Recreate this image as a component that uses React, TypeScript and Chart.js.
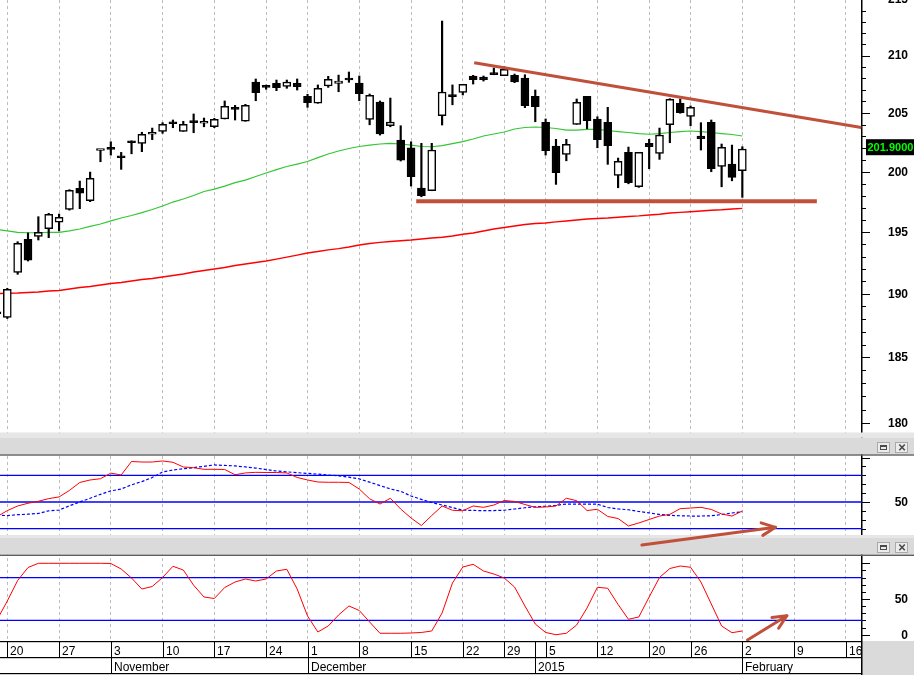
import { useEffect, useRef } from 'react';
import { Chart, registerables } from 'chart.js';

Chart.register(...registerables);

const W = 914;
const H = 675;

// ---------- calendar (trading days, incl. empty future days on the right) ----------
const monthDays = (ym: string, days: number[]) => days.map((d) => `${ym}-${String(d).padStart(2, '0')}`);
const tradingDays: string[] = [
  ...monthDays('2014-10', [17, 20, 21, 22, 23, 24, 27, 28, 29, 30, 31]),
  ...monthDays('2014-11', [3, 4, 5, 6, 7, 10, 11, 12, 13, 14, 17, 18, 19, 20, 21, 24, 25, 26, 28]),
  ...monthDays('2014-12', [1, 2, 3, 4, 5, 8, 9, 10, 11, 12, 15, 16, 17, 18, 19, 22, 23, 24, 26, 29, 30, 31]),
  ...monthDays('2015-01', [2, 5, 6, 7, 8, 9, 12, 13, 14, 15, 16, 20, 21, 22, 23, 26, 27, 28, 29, 30]),
  ...monthDays('2015-02', [2, 3, 4, 5, 6, 9, 10, 11, 12, 13, 16, 17, 18, 19, 20]),
];
const MONTHS = ['January', 'February', 'March', 'April', 'May', 'June', 'July', 'August', 'September', 'October', 'November', 'December'];

// ---------- OHLC, 17 Oct 2014 .. 2 Feb 2015 ----------
const openP = [
  188.42, 188.14, 191.73, 194.41, 194.65, 195.28, 195.80, 196.87, 198.61, 197.58,
  201.79, 202.02, 201.32, 202.56, 202.40, 203.17, 203.42, 204.22, 203.42, 204.28,
  204.11, 203.81, 204.48, 205.36, 204.28, 207.68, 207.33, 207.56, 207.30, 207.56,
  206.43, 205.83, 207.33, 207.56, 208.02, 207.59, 204.45, 205.94, 203.90, 202.68,
  202.02, 198.63, 198.41, 204.77, 206.52, 206.78, 208.20, 208.11, 208.49, 208.23,
  208.26, 208.02, 206.43, 204.19, 202.17, 201.46, 204.02, 206.43, 204.48, 204.19,
  199.70, 201.63, 198.74, 202.40, 201.55, 203.98, 205.83, 204.69, 203.02, 204.19,
  200.45, 200.65, 200.08,
];
const highP = [
  189.00, 190.45, 194.21, 194.93, 196.26, 196.54, 196.48, 198.50, 199.22, 199.97,
  201.83, 202.53, 201.63, 202.61, 203.34, 203.70, 204.16, 204.39, 204.28, 204.91,
  204.56, 204.53, 206.03, 205.65, 205.74, 207.94, 207.41, 207.85, 207.85, 207.94,
  206.61, 207.42, 208.17, 208.28, 208.55, 208.20, 206.63, 206.03, 206.28, 203.90,
  202.53, 202.40, 202.40, 213.06, 207.42, 207.48, 208.26, 208.20, 208.90, 209.01,
  208.37, 208.31, 206.98, 204.48, 202.74, 202.74, 206.20, 206.43, 204.67, 205.48,
  201.15, 202.08, 201.63, 202.74, 203.70, 206.23, 206.20, 205.60, 204.16, 204.39,
  202.34, 202.25, 202.11,
];
const lowP = [
  187.80, 188.05, 191.57, 192.64, 194.35, 194.54, 195.09, 196.80, 196.92, 197.50,
  200.84, 201.40, 200.20, 201.51, 201.69, 202.71, 203.25, 203.73, 203.42, 203.30,
  203.81, 203.73, 204.48, 204.39, 204.28, 206.05, 207.04, 206.92, 207.13, 206.98,
  205.48, 205.83, 207.21, 206.83, 207.65, 206.05, 203.98, 203.10, 203.81, 200.90,
  198.80, 197.91, 198.41, 203.96, 205.70, 206.55, 207.50, 207.76, 208.31, 208.23,
  207.62, 205.45, 204.24, 201.40, 198.94, 200.92, 204.02, 203.64, 202.02, 200.62,
  198.66, 198.99, 198.69, 200.25, 201.04, 202.45, 204.97, 203.90, 201.83, 200.00,
  198.74, 199.24, 197.86,
];
const closeP = [
  188.50, 190.37, 194.08, 192.72, 194.98, 196.46, 196.21, 198.45, 198.20, 199.44,
  201.81, 201.89, 201.18, 202.45, 203.17, 203.34, 204.02, 204.07, 204.02, 204.16,
  204.28, 204.45, 205.57, 205.30, 205.65, 206.75, 207.21, 207.18, 207.68, 207.27,
  205.88, 207.13, 207.91, 207.76, 207.85, 206.66, 206.52, 203.21, 204.22, 200.98,
  199.58, 198.00, 201.83, 206.81, 206.40, 207.48, 207.87, 207.87, 208.31, 208.78,
  207.68, 205.62, 205.53, 201.77, 199.92, 202.31, 205.91, 204.33, 202.71, 202.20,
  200.87, 199.08, 201.63, 202.11, 203.10, 206.17, 205.02, 205.48, 202.79, 200.25,
  202.05, 199.53, 201.90,
];

// ---------- moving averages ----------
const smaFast = [
  195.21, 195.09, 194.97, 194.94, 194.94, 194.97, 194.98, 195.09, 195.25, 195.46,
  195.66, 195.91, 196.15, 196.36, 196.60, 196.85, 197.14, 197.47, 197.72, 198.01,
  198.35, 198.55, 198.80, 199.09, 199.30, 199.60, 199.89, 200.18, 200.44, 200.64,
  200.86, 201.19, 201.49, 201.75, 201.96, 202.13, 202.25, 202.34, 202.40, 202.34,
  202.25, 202.13, 202.11, 202.21, 202.38, 202.55, 202.77, 203.02, 203.19, 203.36,
  203.62, 203.75, 203.79, 203.75, 203.66, 203.53, 203.53, 203.58, 203.58, 203.49,
  203.40, 203.32, 203.23, 203.17, 203.23, 203.32, 203.40, 203.45, 203.40, 203.32,
  203.23, 203.15, 203.02,
];
const smaSlow = [
  190.03, 190.05, 190.07, 190.11, 190.15, 190.23, 190.27, 190.39, 190.51, 190.59,
  190.71, 190.83, 190.91, 191.03, 191.15, 191.23, 191.35, 191.48, 191.60, 191.76,
  191.88, 192.00, 192.12, 192.28, 192.40, 192.52, 192.64, 192.80, 192.96, 193.12,
  193.29, 193.41, 193.55, 193.65, 193.78, 193.94, 194.06, 194.16, 194.23, 194.29,
  194.35, 194.43, 194.51, 194.57, 194.68, 194.82, 194.92, 195.09, 195.25, 195.37,
  195.50, 195.62, 195.70, 195.74, 195.83, 195.91, 195.99, 196.07, 196.11, 196.15,
  196.21, 196.28, 196.33, 196.40, 196.46, 196.56, 196.62, 196.67, 196.73, 196.79,
  196.83, 196.89, 196.95,
];

// ---------- oscillators ----------
const rsiLine = [
  33.5, 40.3, 45.5, 48.6, 50.8, 53.8, 55.7, 63.0, 72.0, 74.8,
  76.2, 82.5, 80.4, 95.6, 95.0, 95.0, 96.2, 94.7, 89.4, 88.6,
  86.8, 86.8, 86.6, 80.7, 82.7, 83.4, 83.2, 83.2, 82.7, 77.6,
  74.8, 72.5, 72.2, 72.2, 72.0, 64.6, 53.6, 47.7, 54.2, 42.1,
  32.0, 23.5, 34.8, 45.5, 40.7, 40.1, 45.5, 44.0, 46.6, 51.7,
  50.6, 47.2, 44.0, 44.4, 45.5, 54.2, 51.5, 40.4, 41.8, 33.7,
  31.4, 23.0, 26.4, 30.3, 34.2, 36.1, 42.5, 43.2, 44.0, 41.6,
  36.5, 34.2, 39.9,
];
const rsiSignal = [
  35.4, 34.6, 35.7, 36.3, 37.1, 40.1, 40.9, 45.7, 50.0, 54.2,
  58.6, 62.5, 64.6, 69.3, 73.0, 77.5, 83.8, 86.0, 87.4, 88.7,
  90.2, 91.7, 91.2, 90.6, 89.5, 88.2, 86.5, 84.9, 83.9, 83.0,
  82.2, 81.4, 80.4, 79.5, 77.9, 76.0, 72.3, 68.5, 64.7, 62.0,
  56.8, 52.9, 49.4, 46.6, 43.8, 40.8, 40.5, 40.2, 40.4, 40.7,
  42.1, 43.5, 44.6, 45.2, 46.3, 47.7, 47.7, 47.7, 47.6, 43.8,
  42.2, 41.3, 39.3, 37.8, 36.0, 35.0, 34.5, 34.2, 34.2, 34.5,
  35.9, 37.6, 39.0,
];
const stochLine = [
  20.6, 47.2, 75.9, 94.1, 100, 100, 100, 100, 100, 100,
  100, 99.7, 92.0, 79.4, 64.0, 67.5, 80.1, 95.8, 90.6, 69.2,
  52.8, 50.7, 66.1, 73.8, 78.0, 75.2, 78.0, 89.2, 91.6, 64.0,
  26.2, 3.8, 12.2, 27.6, 40.2, 33.9, 17.8, 2.0, 2.0, 2.0,
  2.4, 3.1, 5.2, 30.4, 72.4, 94.8, 98.6, 89.2, 85.0, 79.4,
  66.8, 40.2, 15.0, 3.1, 0.0, 2.0, 13.6, 37.4, 66.4, 65.0,
  42.3, 21.6, 24.8, 52.8, 80.1, 92.7, 96.2, 94.4, 73.8, 43.0,
  12.2, 2.8, 5.2,
];
const rsiLevels = [20, 50, 80];
const stochLevels = [20, 80];

// ---------- hand-drawn annotations (trading-day index, value) ----------
const resistanceLine = [{ day: 46.1, value: 209.36 }, { day: 83.5, value: 203.74 }];
const supportLine = [{ day: 40.5, value: 197.53 }, { day: 79.2, value: 197.53 }];
const rsiArrow = [{ day: 62.3, value: 1.6 }, { day: 75.2, value: 21.5 }];
const stochArrow = [{ day: 72.5, value: -7.4 }, { day: 76.3, value: 26.6 }];

// ---------- axis labels ----------
const priceLabels = [180, 185, 190, 195, 200, 205, 210, 215];
const rsiLabels = [50];
const rsiMajor = [50, 100];
const stochLabels = [0, 50];
const stochMajor = [0, 50, 100];

// ---------- layout ----------
const AREA_BOTTOM = 641;
const PRICE_PANEL = { top: 0, bottom: 432, hi: 214.95, lo: 179.3 };
const RSI_PANEL = { top: 455.7, bottom: 535, hi: 102.12, lo: 12.85 };
const STOCH_PANEL = { top: 556, bottom: 641, hi: 110.22, lo: -8.82 };
const X_MIN = 0.295;
const X_MAX = 83.56;
const TREND = '#c1503a';

const linRange = (p: any) => {
  const per = (p.hi - p.lo) / (p.bottom - p.top);
  return { min: p.lo - (AREA_BOTTOM - p.bottom) * per, max: p.hi + p.top * per };
};
const logRange = (p: any) => {
  const hi = Math.log10(p.hi);
  const lo = Math.log10(p.lo);
  const per = (hi - lo) / (p.bottom - p.top);
  return { min: Math.pow(10, lo - (AREA_BOTTOM - p.bottom) * per), max: Math.pow(10, hi + p.top * per) };
};

const weekday = (s: string) => new Date(s + 'T00:00:00Z').getUTCDay();
const monthOf = (s: string) => Number(s.slice(5, 7)) - 1;
const weekStarts = tradingDays
  .map((_, i) => i)
  .filter((i) => i > 0 && weekday(tradingDays[i]) < weekday(tradingDays[i - 1]));
const monthStarts = tradingDays
  .map((_, i) => i)
  .filter((i) => i > 0 && monthOf(tradingDays[i]) !== monthOf(tradingDays[i - 1]));

const xy = (arr: number[]) => arr.map((v, i) => ({ x: i, y: v }));
const pts = (arr: any[]) => arr.map((p) => ({ x: p.day, y: p.value }));
const levelLine = (v: number) => [{ x: X_MIN, y: v }, { x: X_MAX, y: v }];

const FONT = '"Liberation Sans", Arial, sans-serif';

const panelsPlugin = {
  id: 'panels',
  beforeDraw(chart: any) {
    const ctx = chart.ctx;
    ctx.save();
    ctx.fillStyle = '#ffffff';
    ctx.fillRect(0, 0, W, H);
    ctx.restore();
  },
  beforeDatasetsDraw(chart: any) {
    const ctx = chart.ctx;
    const a = chart.chartArea;
    ctx.save();
    // right axis line
    ctx.fillStyle = '#000';
    ctx.fillRect(a.right - 1, 0, 1.5, H);
    const header = (top: number, bottom: number, light: number) => {
      ctx.fillStyle = '#e6e6e6';
      ctx.fillRect(0, top, W, light);
      ctx.fillStyle = '#dadada';
      ctx.fillRect(0, top + light, W, bottom - top - light - 1.4);
      ctx.fillStyle = '#5e5e5e';
      ctx.fillRect(0, bottom - 1.4, W, 1.4);
      const by = Math.round(bottom - 14);
      for (const bx of [877, 895]) {
        ctx.fillStyle = '#ececec';
        ctx.fillRect(bx, by, 13, 11);
        ctx.strokeStyle = '#a9a9a9';
        ctx.lineWidth = 1;
        ctx.strokeRect(bx + 0.5, by + 0.5, 12, 10);
      }
      ctx.strokeStyle = '#4a4a4a';
      ctx.lineWidth = 1;
      ctx.strokeRect(880.5, by + 3.5, 6, 4);
      ctx.fillStyle = '#4a4a4a';
      ctx.fillRect(880, by + 3, 7, 2);
      ctx.lineWidth = 1.6;
      ctx.beginPath();
      ctx.moveTo(899.3, by + 2.5);
      ctx.lineTo(904.8, by + 8.3);
      ctx.moveTo(904.8, by + 2.5);
      ctx.lineTo(899.3, by + 8.3);
      ctx.stroke();
    };
    header(432.5, RSI_PANEL.top, 5);
    header(RSI_PANEL.bottom, STOCH_PANEL.top, 3);
    ctx.restore();
  },
  afterDraw(chart: any) {
    const ctx = chart.ctx;
    const a = chart.chartArea;
    const xs = chart.scales.x;
    ctx.save();

    // ---- right axis ticks & labels ----
    const ticks = (scale: any, from: number, to: number, step: number, isMajor: (v: number) => boolean, labels: number[], p: any) => {
      ctx.strokeStyle = '#000';
      ctx.lineWidth = 1;
      ctx.fillStyle = '#000';
      ctx.font = `bold 12px ${FONT}`;
      ctx.textAlign = 'right';
      ctx.textBaseline = 'middle';
      for (let v = from; v <= to + 1e-9; v += step) {
        const y = scale.getPixelForValue(v);
        if (y < p.top - 1 || y > p.bottom + 1) continue;
        const yy = Math.round(y) + 0.5;
        const len = isMajor(v) ? 8 : 4;
        ctx.beginPath();
        ctx.moveTo(a.right, yy);
        ctx.lineTo(a.right + len, yy);
        ctx.stroke();
        if (labels.includes(v)) ctx.fillText(String(v), 908, y + 0.5);
      }
    };
    ticks(chart.scales.y, 180, 215, 1, (v) => priceLabels.includes(v), priceLabels, PRICE_PANEL);
    ticks(chart.scales.yR, 10, 100, 10, (v) => rsiMajor.includes(v), rsiLabels, RSI_PANEL);
    ticks(chart.scales.yS, 0, 100, 10, (v) => stochMajor.includes(v), stochLabels, STOCH_PANEL);

    // ---- last price tag ----
    const last = closeP[closeP.length - 1];
    const py = chart.scales.y.getPixelForValue(last);
    ctx.fillStyle = '#000';
    ctx.fillRect(866, py - 10, 48, 16);
    ctx.fillStyle = '#00ff00';
    ctx.font = `bold 11px ${FONT}`;
    ctx.textAlign = 'left';
    ctx.textBaseline = 'middle';
    ctx.fillText(last.toFixed(4), 867.5, py - 1.5);

    // ---- date axis (two rows) ----
    const top = a.bottom;
    ctx.fillStyle = '#ffffff';
    ctx.fillRect(0, top, a.right, H - top);
    ctx.fillStyle = '#dadada';
    ctx.fillRect(a.right, top, W - a.right, H - top);
    ctx.fillStyle = '#000';
    ctx.fillRect(0, top, a.right, 1.2);
    ctx.fillRect(0, top + 16, a.right, 1.2);
    ctx.fillRect(0, H - 2, a.right, 1.2);
    ctx.fillRect(a.right - 1, top, 1.5, H - top);
    ctx.font = `12px ${FONT}`;
    ctx.textAlign = 'left';
    ctx.textBaseline = 'alphabetic';
    const seps = Array.from(new Set([...weekStarts, ...monthStarts])).sort((p, q) => p - q);
    for (const i of seps) {
      const x = Math.round(xs.getPixelForValue(i));
      if (x > a.right) continue;
      ctx.fillRect(x, top, 1, 16.5);
    }
    for (const i of weekStarts) {
      const x = Math.round(xs.getPixelForValue(i));
      if (x > a.right) continue;
      ctx.fillText(String(Number(tradingDays[i].slice(8, 10))), x + 3, top + 14);
    }
    for (const i of monthStarts) {
      const x = Math.round(xs.getPixelForValue(i));
      if (x > a.right) continue;
      ctx.fillRect(x, top + 16, 1, H - top - 17);
      const m = monthOf(tradingDays[i]);
      const label = m === 0 ? tradingDays[i].slice(0, 4) : MONTHS[m];
      ctx.fillText(label, x + 3, top + 30);
    }

    // ---- arrow heads ----
    chart.data.datasets.forEach((ds: any, idx: number) => {
      if (!ds.isArrow) return;
      const meta = chart.getDatasetMeta(idx);
      const p0 = meta.data[0];
      const p1 = meta.data[meta.data.length - 1];
      const ang = Math.atan2(p1.y - p0.y, p1.x - p0.x);
      const len = 15;
      const spread = (25 * Math.PI) / 180;
      ctx.strokeStyle = TREND;
      ctx.lineWidth = 3;
      ctx.lineCap = 'round';
      ctx.lineJoin = 'round';
      ctx.beginPath();
      ctx.moveTo(p1.x - len * Math.cos(ang - spread), p1.y - len * Math.sin(ang - spread));
      ctx.lineTo(p1.x, p1.y);
      ctx.lineTo(p1.x - len * Math.cos(ang + spread), p1.y - len * Math.sin(ang + spread));
      ctx.stroke();
    });
    ctx.restore();
  },
};

const lineBase = { type: 'line', pointRadius: 0, tension: 0, fill: false, xAxisID: 'x' };

export default function App() {
  const ref = useRef<HTMLCanvasElement>(null);

  useEffect(() => {
    if (!ref.current) return;
    const yMain = logRange(PRICE_PANEL);
    const yR = linRange(RSI_PANEL);
    const yS = linRange(STOCH_PANEL);

    const datasets: any[] = [
      { ...lineBase, label: 'MA slow', data: xy(smaSlow), yAxisID: 'y', borderColor: '#ff0000', borderWidth: 1.4, order: 20 },
      { ...lineBase, label: 'MA fast', data: xy(smaFast), yAxisID: 'y', borderColor: '#33c633', borderWidth: 1.2, order: 19 },
      {
        type: 'bar', label: 'wick', xAxisID: 'x', yAxisID: 'y',
        data: lowP.map((l, i) => ({ x: i, y: [l, highP[i]] })),
        backgroundColor: '#000', borderWidth: 0, barThickness: 1.5, grouped: false, order: 18,
      },
      {
        type: 'bar', label: 'body', xAxisID: 'x', yAxisID: 'y',
        data: openP.map((o, i) => ({ x: i, y: [o, closeP[i]] })),
        backgroundColor: openP.map((o, i) => (closeP[i] >= o ? '#ffffff' : '#000000')),
        borderColor: '#000', borderWidth: 1.5, borderSkipped: false, barThickness: 8, minBarLength: 2,
        grouped: false, order: 17,
      },
      ...rsiLevels.map((v) => ({ ...lineBase, label: `rsi ${v}`, data: levelLine(v), yAxisID: 'yR', borderColor: '#0000ff', borderWidth: 1.3, order: 16 })),
      ...stochLevels.map((v) => ({ ...lineBase, label: `stoch ${v}`, data: levelLine(v), yAxisID: 'yS', borderColor: '#0000ff', borderWidth: 1.3, order: 16 })),
      { ...lineBase, label: 'signal', data: xy(rsiSignal), yAxisID: 'yR', borderColor: '#0000ff', borderWidth: 1.2, borderDash: [3, 2], order: 15 },
      { ...lineBase, label: 'rsi', data: xy(rsiLine), yAxisID: 'yR', borderColor: '#ff0000', borderWidth: 1, order: 14 },
      { ...lineBase, label: 'stoch', data: xy(stochLine), yAxisID: 'yS', borderColor: '#ff0000', borderWidth: 1, order: 14 },
      { ...lineBase, label: 'resistance', data: pts(resistanceLine), yAxisID: 'y', borderColor: TREND, borderWidth: 3, order: 3 },
      { ...lineBase, label: 'support', data: pts(supportLine), yAxisID: 'y', borderColor: TREND, borderWidth: 4, order: 3 },
      { ...lineBase, label: 'rsi arrow', data: pts(rsiArrow), yAxisID: 'yR', borderColor: TREND, borderWidth: 3, borderCapStyle: 'round', order: 1, isArrow: true },
      { ...lineBase, label: 'stoch arrow', data: pts(stochArrow), yAxisID: 'yS', borderColor: TREND, borderWidth: 3, borderCapStyle: 'round', order: 1, isArrow: true },
    ];

    const chart = new Chart(ref.current, {
      type: 'bar',
      data: { datasets },
      options: {
        responsive: false,
        devicePixelRatio: 1,
        animation: false,
        events: [],
        layout: { autoPadding: false, padding: { left: 0, top: 0, right: W - 862, bottom: H - AREA_BOTTOM } },
        plugins: { legend: { display: false }, tooltip: { enabled: false } },
        scales: {
          x: {
            type: 'linear', min: X_MIN, max: X_MAX, offset: false, bounds: 'data', display: true,
            grid: { display: true, offset: false, color: '#bdbdbd', lineWidth: 1, drawTicks: false, drawOnChartArea: true },
            border: { display: false, dash: [3, 3] },
            ticks: { display: false },
            afterBuildTicks: (s: any) => {
              s.ticks = weekStarts.map((v) => ({ value: v }));
            },
          },
          y: { type: 'logarithmic', position: 'right', display: false, min: yMain.min, max: yMain.max, bounds: 'data' },
          yR: { type: 'linear', position: 'right', display: false, min: yR.min, max: yR.max, bounds: 'data' },
          yS: { type: 'linear', position: 'right', display: false, min: yS.min, max: yS.max, bounds: 'data' },
        },
      } as any,
      plugins: [panelsPlugin],
    } as any);
    return () => chart.destroy();
  }, []);

  return (
    <div style={{ position: 'absolute', left: 0, top: 0, width: W, height: H, background: '#fff' }}>
      <canvas ref={ref} width={W} height={H} style={{ display: 'block' }} />
    </div>
  );
}
